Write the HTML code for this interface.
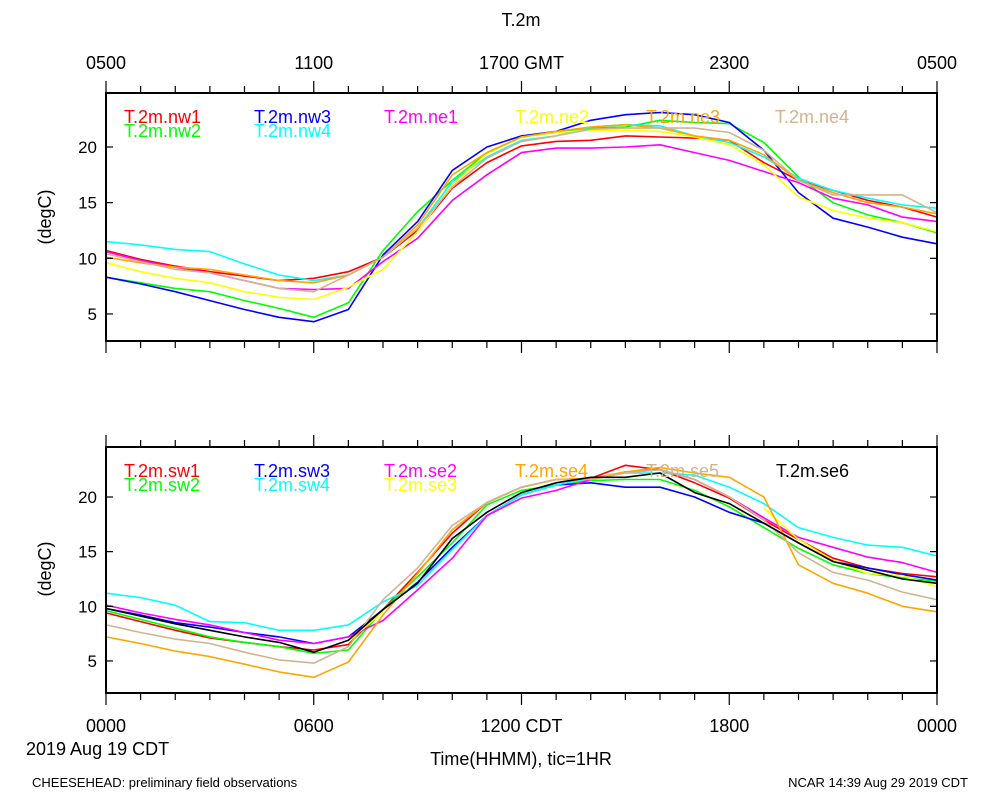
<!DOCTYPE html>
<html><head><meta charset="utf-8"><style>
html,body{margin:0;padding:0;background:#fff;}
svg{display:block;font-family:"Liberation Sans",sans-serif;}
</style></head><body>
<svg id="chart" width="1000" height="800" viewBox="0 0 1000 800" xmlns="http://www.w3.org/2000/svg">
<rect width="1000" height="800" fill="#fff"/>
<text x="521" y="26" font-size="18" text-anchor="middle">T.2m</text>
<g id="top"></g><g id="bot"></g>
<text transform="translate(51,217) rotate(-90)" font-size="18" text-anchor="middle">(degC)</text>
<text transform="translate(51,569) rotate(-90)" font-size="18" text-anchor="middle">(degC)</text>
<text x="26" y="755" font-size="18">2019 Aug 19 CDT</text>
<text x="521" y="765" font-size="18" text-anchor="middle">Time(HHMM), tic=1HR</text>
<text x="32" y="787" font-size="13">CHEESEHEAD: preliminary field observations</text>
<text x="968" y="787" font-size="13" text-anchor="end">NCAR 14:39 Aug 29 2019 CDT</text>
</svg>
<script>
const hours=[0,1,2,3,4,5,6,7,8,9,10,11,12,13,14,15,16,17,18,19,20,21,22,23,24];
const yTicks=[5,10,15,20];
const topXLabels=["0500","1100","1700 GMT","2300","0500"];
const botXLabels=["0000","0600","1200 CDT","1800","0000"];
const topNames=["T.2m.nw1","T.2m.nw2","T.2m.nw3","T.2m.nw4","T.2m.ne1","T.2m.ne2","T.2m.ne3","T.2m.ne4"];
const nw1=[10.7,9.9,9.3,8.8,8.4,8.0,8.2,8.8,10.1,12.5,16.3,18.6,20.1,20.5,20.6,21.0,20.9,20.8,20.6,18.6,17.0,16.1,15.2,14.6,13.7];
const nw2=[8.3,7.8,7.3,7.0,6.2,5.5,4.7,6.0,10.7,14.2,17.0,19.5,20.9,21.3,21.7,21.8,22.4,22.2,22.1,20.4,17.3,15.0,13.9,13.2,12.3];
const nw3=[8.3,7.7,7.0,6.2,5.4,4.7,4.3,5.4,10.3,13.3,17.9,20.0,21.0,21.4,22.4,22.9,23.1,22.9,22.2,19.7,15.9,13.6,12.8,11.9,11.3];
const nw4=[11.5,11.2,10.8,10.6,9.5,8.5,8.0,8.5,10.1,12.7,16.9,19.1,20.6,21.0,21.8,22.0,21.9,21.0,20.4,19.1,17.2,16.1,15.4,14.8,14.5];
const ne1=[10.6,9.8,9.2,8.7,8.0,7.3,7.2,7.3,9.7,11.8,15.2,17.5,19.5,19.9,19.9,20.0,20.2,19.5,18.8,17.8,16.8,15.4,14.8,13.7,13.3];
const ne2=[9.6,8.8,8.2,7.8,7.0,6.5,6.3,7.4,9.0,12.4,16.6,19.4,20.9,21.3,21.5,21.5,21.4,20.9,20.2,18.4,15.5,14.3,13.6,13.2,12.4];
const ne3=[10.1,9.6,9.2,9.0,8.5,8.0,7.8,8.5,10.1,13.0,17.5,19.5,20.9,21.4,21.8,22.0,21.7,21.0,20.6,19.3,17.0,15.9,15.0,14.6,14.0];
const ne4=[10.4,9.7,9.0,8.7,8.0,7.3,7.0,8.5,10.1,12.7,16.4,19.0,20.5,21.0,21.6,21.7,21.7,21.7,21.3,19.7,17.0,15.7,15.7,15.7,14.1];
const botNames=["T.2m.sw1","T.2m.sw2","T.2m.sw3","T.2m.sw4","T.2m.se2","T.2m.se3","T.2m.se4","T.2m.se5","T.2m.se6"];
const sw1=[9.4,8.6,7.8,7.1,6.7,6.3,6.0,6.5,9.7,13.1,16.7,19.5,20.9,21.6,21.7,22.9,22.5,21.3,19.9,17.9,16.1,14.4,13.5,13.0,12.7];
const sw2=[9.6,8.8,8.0,7.2,6.7,6.3,5.7,6.0,9.7,12.7,15.8,19.3,20.6,21.1,21.5,21.6,21.6,20.6,19.1,17.2,15.3,13.8,13.0,12.6,12.3];
const sw3=[9.8,9.2,8.5,8.1,7.6,7.2,6.6,7.2,9.7,12.2,15.4,18.3,20.2,21.1,21.3,20.9,20.9,20.0,18.6,17.6,15.8,14.1,13.5,12.9,12.4];
const sw4=[11.2,10.8,10.1,8.6,8.5,7.8,7.8,8.3,10.4,11.9,15.2,18.3,20.2,21.1,21.7,22.2,22.2,22.0,20.9,19.4,17.2,16.3,15.6,15.4,14.6];
const se2=[10.1,9.4,8.8,8.3,7.6,6.9,6.6,7.2,8.7,11.5,14.4,18.3,19.9,20.6,21.6,22.3,22.5,21.6,20.0,18.1,16.3,15.4,14.5,14.0,13.1];
const se3=[null,null,null,null,null,null,null,6.8,9.5,null,null,null,null,null,null,null,null,null,null,19.0,16.1,14.2,13.0,12.8,11.8];
const se4=[7.2,6.6,5.9,5.4,4.7,4.0,3.5,4.9,9.2,13.0,17.0,19.5,20.9,21.6,21.7,22.3,22.7,22.2,21.8,20.0,13.8,12.1,11.2,10.0,9.5];
const se5=[8.3,7.6,7.0,6.6,5.8,5.1,4.8,6.3,10.6,13.5,17.4,19.5,20.9,21.6,21.6,22.2,22.5,21.6,20.0,17.9,14.9,13.1,12.4,11.3,10.6];
const se6=[9.8,9.1,8.4,7.8,7.2,6.7,5.8,6.9,9.7,12.1,16.2,18.6,20.4,21.3,21.8,21.8,22.2,20.4,19.4,17.6,15.8,14.1,13.3,12.5,12.1];

const NS="http://www.w3.org/2000/svg";
const X0=106,X1=937;
function xs(h){return X0+(X1-X0)*h/24;}
function mk(tag,attrs,parent){const e=document.createElementNS(NS,tag);for(const k in attrs)e.setAttribute(k,attrs[k]);parent.appendChild(e);return e;}

function panel(g,top,bot,y20,ppd,series,names,colors,legPos,topLabels,botLabels,pname){
  const ys=v=>y20+(20-v)*ppd;
  // series
  series.forEach((s,i)=>{
    let d="",pen=false;
    s.forEach((v,j)=>{ if(v===null){pen=false;return;} d+=(pen?"L":"M")+xs(hours[j]).toFixed(1)+","+ys(v).toFixed(1); pen=true;});
    const p=mk("path",{d:d,fill:"none",stroke:colors[i],"stroke-width":"1.6","stroke-linejoin":"round"},g);
    
    
  });
  // frame
  const fr=mk("rect",{x:X0,y:top,width:X1-X0,height:bot-top,fill:"none",stroke:"#000","stroke-width":"2"},g);
  
  
  // x ticks
  for(let h=0;h<=24;h++){
    const L=(h%6===0)?12:7, x=xs(h);
    const t1=mk("line",{x1:x,x2:x,y1:top,y2:top-L,stroke:"#000","stroke-width":"1.2"},g);
    
    
    const t2=mk("line",{x1:x,x2:x,y1:bot,y2:bot+L,stroke:"#000","stroke-width":"1.2"},g);
    
    
  }
  // y ticks
  yTicks.forEach(v=>{
    const y=ys(v);
    const a=mk("line",{x1:X0,x2:X0+7,y1:y,y2:y,stroke:"#000","stroke-width":"1.2"},g);
    
    
    const b=mk("line",{x1:X1,x2:X1-7,y1:y,y2:y,stroke:"#000","stroke-width":"1.2"},g);
    
    
    const t=mk("text",{x:97,y:y+6,"font-size":"17","text-anchor":"end"},g);
    t.textContent=v;
    
    
  });
  if(topLabels){topLabels.forEach((s,i)=>{const t=mk("text",{x:xs(i*6),y:top-24,"font-size":"18","text-anchor":"middle"},g);t.textContent=s;
    
    });}
  if(botLabels){botLabels.forEach((s,i)=>{const t=mk("text",{x:xs(i*6),y:bot+39,"font-size":"18","text-anchor":"middle"},g);t.textContent=s;
    
    });}
  // legend
  names.forEach((n,i)=>{const p=legPos[i];const t=mk("text",{x:p[0],y:p[1],"font-size":"18",fill:colors[i]},g);t.textContent=n;
    
    });
}
const topColors=["#ff0000","#00ff00","#0000ff","#00ffff","#ff00ff","#ffff00","#ffa500","#d2b48c"];
const botColors=["#ff0000","#00ff00","#0000ff","#00ffff","#ff00ff","#ffff00","#ffa500","#d2b48c","#000000"];
const tl=[[124,123],[124,137],[254,123],[254,137],[384,123],[515,123],[646,123],[775,123]];
const bl=[[124,477],[124,491],[254,477],[254,491],[384,477],[384,491],[515,477],[646,477],[776,477]];
panel(document.getElementById("top"),93,341,147,11.13,[nw1,nw2,nw3,nw4,ne1,ne2,ne3,ne4],topNames,topColors,tl,topXLabels,null,"top-panel");
panel(document.getElementById("bot"),447,693,497,10.93,[sw1,sw2,sw3,sw4,se2,se3,se4,se5,se6],botNames,botColors,bl,null,botXLabels,"bottom-panel");
</script>
</body></html>
